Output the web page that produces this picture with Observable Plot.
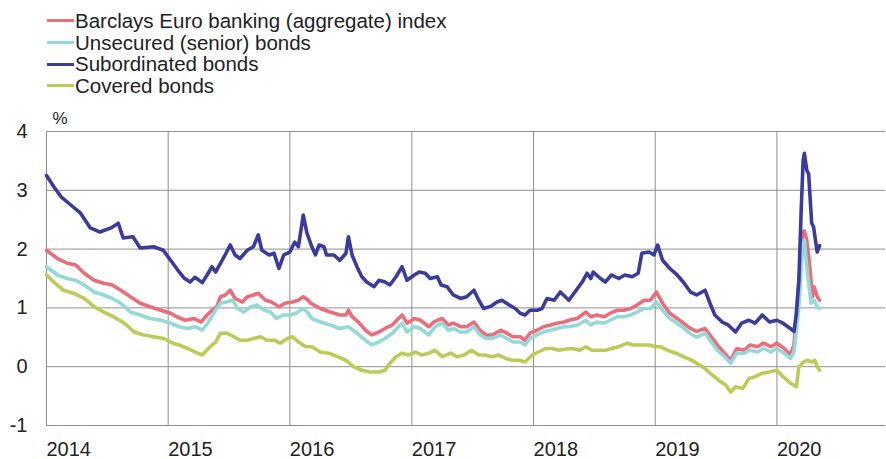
<!DOCTYPE html>
<html>
<head>
<meta charset="utf-8">
<script src="https://cdn.jsdelivr.net/npm/d3@7"></script>
<script src="https://cdn.jsdelivr.net/npm/@observablehq/plot@0.6"></script>
<style>
  html, body { margin: 0; padding: 0; background: #fff; }
  body { width: 886px; height: 459px; position: relative; overflow: hidden; font-family: "Liberation Sans", Arial, sans-serif; color: #222; }
  #legend { position: absolute; left: 0; top: 10px; }
  .row { height: 21.7px; line-height: 21.7px; font-size: 20.5px; display: flex; align-items: center; white-space: nowrap; }
  .sw { display: inline-block; margin-left: 47px; width: 27px; height: 3px; margin-right: 1px; }
  #chart { position: absolute; left: 0; top: 96px; }
</style>
</head>
<body>
<div id="legend"></div>
<div id="chart"></div>
<script>
// Series names and colours
const seriesNames = [
  "Barclays Euro banking (aggregate) index",
  "Unsecured (senior) bonds",
  "Subordinated bonds",
  "Covered bonds"
];
const seriesColors = ["#e96d7a", "#93d9da", "#3b3b9b", "#bccb57"];

// Tick values
const yTicks = [-1, 0, 1, 2, 3, 4];
const yearTicks = [2014, 2015, 2016, 2017, 2018, 2019, 2020];

// Data: [decimal year, yield %]
const aggregateIndex = [
  [2014.00,1.98],[2014.09,1.84],[2014.17,1.76],[2014.24,1.73],[2014.31,1.59],[2014.39,1.47],[2014.47,1.42],
  [2014.54,1.39],[2014.61,1.30],[2014.69,1.19],[2014.77,1.08],[2014.85,1.02],[2014.94,0.96],[2015.02,0.91],
  [2015.07,0.85],[2015.14,0.79],[2015.21,0.82],[2015.27,0.76],[2015.32,0.88],[2015.36,0.96],[2015.40,1.02],
  [2015.43,1.19],[2015.47,1.22],[2015.51,1.30],[2015.55,1.16],[2015.61,1.10],[2015.65,1.19],[2015.70,1.22],
  [2015.74,1.25],[2015.80,1.13],[2015.85,1.10],[2015.91,1.02],[2015.96,1.08],[2016.02,1.10],[2016.07,1.13],
  [2016.11,1.19],[2016.15,1.13],[2016.17,1.08],[2016.25,0.99],[2016.33,0.93],[2016.41,0.88],[2016.46,0.88],
  [2016.48,0.96],[2016.51,0.85],[2016.57,0.74],[2016.62,0.62],[2016.67,0.54],[2016.73,0.59],[2016.78,0.65],
  [2016.84,0.71],[2016.89,0.82],[2016.92,0.88],[2016.96,0.74],[2017.02,0.82],[2017.07,0.79],[2017.14,0.68],
  [2017.18,0.76],[2017.21,0.79],[2017.25,0.82],[2017.30,0.71],[2017.34,0.74],[2017.40,0.68],[2017.45,0.68],
  [2017.51,0.76],[2017.56,0.62],[2017.61,0.54],[2017.66,0.54],[2017.73,0.62],[2017.78,0.57],[2017.83,0.51],
  [2017.89,0.51],[2017.93,0.45],[2017.97,0.57],[2018.03,0.62],[2018.08,0.68],[2018.14,0.71],[2018.19,0.74],
  [2018.25,0.76],[2018.29,0.79],[2018.36,0.82],[2018.43,0.93],[2018.47,0.85],[2018.52,0.88],[2018.58,0.85],
  [2018.63,0.91],[2018.69,0.96],[2018.74,0.96],[2018.80,0.99],[2018.85,1.05],[2018.91,1.13],[2018.96,1.13],
  [2019.01,1.27],[2019.06,1.08],[2019.12,0.91],[2019.20,0.79],[2019.29,0.65],[2019.34,0.60],[2019.41,0.65],
  [2019.46,0.51],[2019.51,0.37],[2019.57,0.23],[2019.62,0.11],[2019.67,0.31],[2019.73,0.28],[2019.78,0.37],
  [2019.84,0.34],[2019.89,0.40],[2019.95,0.34],[2020.00,0.40],[2020.06,0.31],[2020.11,0.20],[2020.14,0.37],
  [2020.18,1.47],[2020.21,2.27],[2020.225,2.31],[2020.245,2.15],[2020.27,1.70],[2020.29,1.19],[2020.305,1.36],
  [2020.33,1.19],[2020.35,1.13]
];
const seniorBonds = [
  [2014.00,1.70],[2014.09,1.56],[2014.17,1.50],[2014.24,1.47],[2014.31,1.39],[2014.39,1.27],[2014.47,1.22],
  [2014.54,1.16],[2014.61,1.08],[2014.69,0.93],[2014.77,0.88],[2014.85,0.82],[2014.94,0.79],[2015.02,0.74],
  [2015.09,0.68],[2015.16,0.65],[2015.22,0.68],[2015.28,0.62],[2015.33,0.76],[2015.39,0.96],[2015.43,1.08],
  [2015.48,1.10],[2015.53,1.13],[2015.57,0.99],[2015.62,0.93],[2015.68,1.02],[2015.73,1.05],[2015.79,0.96],
  [2015.84,0.93],[2015.89,0.82],[2015.95,0.88],[2016.00,0.88],[2016.05,0.91],[2016.11,0.99],[2016.15,0.91],
  [2016.18,0.82],[2016.25,0.76],[2016.33,0.71],[2016.41,0.65],[2016.48,0.68],[2016.55,0.57],[2016.62,0.45],
  [2016.67,0.37],[2016.73,0.42],[2016.78,0.48],[2016.84,0.57],[2016.89,0.68],[2016.92,0.74],[2016.96,0.59],
  [2017.02,0.68],[2017.07,0.65],[2017.14,0.54],[2017.18,0.65],[2017.21,0.71],[2017.25,0.74],[2017.30,0.62],
  [2017.34,0.65],[2017.40,0.59],[2017.45,0.59],[2017.51,0.68],[2017.56,0.54],[2017.61,0.48],[2017.66,0.48],
  [2017.73,0.54],[2017.78,0.48],[2017.83,0.42],[2017.89,0.42],[2017.93,0.37],[2017.97,0.48],[2018.03,0.54],
  [2018.08,0.59],[2018.14,0.62],[2018.19,0.65],[2018.25,0.68],[2018.29,0.68],[2018.36,0.71],[2018.43,0.79],
  [2018.47,0.71],[2018.52,0.76],[2018.58,0.74],[2018.63,0.79],[2018.69,0.85],[2018.74,0.85],[2018.80,0.88],
  [2018.85,0.93],[2018.91,0.99],[2018.96,0.99],[2019.01,1.10],[2019.06,0.96],[2019.12,0.82],[2019.20,0.71],
  [2019.29,0.56],[2019.34,0.50],[2019.41,0.57],[2019.46,0.42],[2019.51,0.28],[2019.57,0.17],[2019.62,0.06],
  [2019.67,0.23],[2019.73,0.23],[2019.78,0.28],[2019.84,0.25],[2019.89,0.31],[2019.95,0.25],[2020.00,0.31],
  [2020.06,0.23],[2020.11,0.14],[2020.14,0.25],[2020.18,1.02],[2020.21,2.04],[2020.225,2.15],[2020.25,1.59],
  [2020.28,1.08],[2020.305,1.13],[2020.33,1.02],[2020.35,0.99]
];
const subordinatedBonds = [
  [2014.00,3.25],[2014.06,3.06],[2014.12,2.89],[2014.20,2.75],[2014.28,2.61],[2014.36,2.36],[2014.44,2.29],
  [2014.53,2.36],[2014.59,2.44],[2014.63,2.19],[2014.71,2.21],[2014.77,2.02],[2014.88,2.04],[2014.96,1.98],
  [2015.02,1.81],[2015.08,1.64],[2015.13,1.51],[2015.18,1.44],[2015.22,1.52],[2015.28,1.43],[2015.32,1.56],
  [2015.36,1.70],[2015.39,1.61],[2015.46,1.87],[2015.51,2.07],[2015.55,1.90],[2015.59,1.84],[2015.65,1.98],
  [2015.70,2.04],[2015.74,2.24],[2015.77,1.98],[2015.83,1.90],[2015.87,1.93],[2015.91,1.67],[2015.95,1.90],
  [2016.00,1.95],[2016.04,2.12],[2016.07,2.04],[2016.11,2.58],[2016.14,2.27],[2016.18,2.04],[2016.21,1.90],
  [2016.24,2.07],[2016.28,2.04],[2016.30,1.90],[2016.36,1.90],[2016.41,1.81],[2016.46,1.93],[2016.48,2.21],
  [2016.51,1.90],[2016.55,1.70],[2016.59,1.53],[2016.63,1.44],[2016.69,1.36],[2016.73,1.47],[2016.78,1.44],
  [2016.82,1.39],[2016.87,1.53],[2016.92,1.70],[2016.96,1.47],[2017.02,1.56],[2017.06,1.61],[2017.11,1.59],
  [2017.15,1.50],[2017.21,1.53],[2017.24,1.39],[2017.29,1.36],[2017.34,1.22],[2017.40,1.16],[2017.45,1.19],
  [2017.51,1.30],[2017.55,1.13],[2017.59,0.99],[2017.65,1.03],[2017.70,1.10],[2017.74,1.13],[2017.80,1.05],
  [2017.85,0.99],[2017.89,0.91],[2017.93,0.88],[2017.97,0.96],[2018.03,0.96],[2018.07,0.99],[2018.11,1.16],
  [2018.17,1.13],[2018.22,1.27],[2018.29,1.13],[2018.34,1.27],[2018.40,1.44],[2018.44,1.59],[2018.47,1.50],
  [2018.49,1.61],[2018.55,1.50],[2018.59,1.44],[2018.64,1.56],[2018.70,1.50],[2018.75,1.56],[2018.81,1.53],
  [2018.86,1.59],[2018.89,1.93],[2018.95,1.95],[2018.99,1.90],[2019.02,2.07],[2019.06,1.81],[2019.12,1.67],
  [2019.18,1.56],[2019.23,1.44],[2019.29,1.27],[2019.34,1.22],[2019.41,1.30],[2019.45,1.08],[2019.49,0.88],
  [2019.55,0.76],[2019.60,0.71],[2019.66,0.59],[2019.71,0.74],[2019.77,0.79],[2019.82,0.74],[2019.88,0.88],
  [2019.94,0.76],[2020.00,0.79],[2020.05,0.74],[2020.11,0.65],[2020.14,0.60],[2020.16,0.91],[2020.18,1.47],
  [2020.20,2.72],[2020.215,3.51],[2020.225,3.63],[2020.245,3.34],[2020.26,3.28],[2020.285,2.44],[2020.30,2.38],
  [2020.33,1.95],[2020.35,2.06]
];
const coveredBonds = [
  [2014.00,1.56],[2014.07,1.42],[2014.14,1.30],[2014.22,1.25],[2014.31,1.16],[2014.39,1.02],[2014.47,0.93],
  [2014.55,0.85],[2014.64,0.74],[2014.72,0.59],[2014.80,0.54],[2014.88,0.51],[2014.96,0.48],[2015.04,0.40],
  [2015.09,0.37],[2015.16,0.31],[2015.22,0.25],[2015.28,0.20],[2015.33,0.31],[2015.39,0.42],[2015.43,0.57],
  [2015.48,0.57],[2015.54,0.51],[2015.59,0.45],[2015.65,0.45],[2015.70,0.48],[2015.76,0.51],[2015.81,0.45],
  [2015.87,0.45],[2015.92,0.40],[2015.98,0.48],[2016.02,0.51],[2016.07,0.42],[2016.13,0.34],[2016.18,0.34],
  [2016.25,0.25],[2016.32,0.23],[2016.39,0.17],[2016.46,0.11],[2016.52,0.00],[2016.59,-0.06],[2016.66,-0.09],
  [2016.73,-0.09],[2016.78,-0.06],[2016.82,0.06],[2016.87,0.17],[2016.92,0.23],[2016.97,0.20],[2017.03,0.25],
  [2017.08,0.20],[2017.14,0.23],[2017.19,0.28],[2017.25,0.17],[2017.32,0.23],[2017.37,0.17],[2017.43,0.20],
  [2017.49,0.28],[2017.55,0.20],[2017.60,0.20],[2017.66,0.17],[2017.71,0.20],[2017.77,0.14],[2017.82,0.11],
  [2017.88,0.11],[2017.93,0.08],[2017.99,0.20],[2018.04,0.25],[2018.10,0.31],[2018.15,0.31],[2018.21,0.28],
  [2018.27,0.30],[2018.32,0.31],[2018.38,0.28],[2018.43,0.34],[2018.48,0.28],[2018.54,0.28],[2018.59,0.28],
  [2018.64,0.31],[2018.70,0.34],[2018.77,0.40],[2018.82,0.37],[2018.89,0.37],[2018.95,0.37],[2019.00,0.34],
  [2019.04,0.34],[2019.10,0.28],[2019.17,0.23],[2019.23,0.17],[2019.29,0.12],[2019.34,0.06],[2019.41,-0.03],
  [2019.45,-0.11],[2019.52,-0.23],[2019.58,-0.31],[2019.62,-0.43],[2019.66,-0.34],[2019.72,-0.37],[2019.77,-0.20],
  [2019.82,-0.17],[2019.88,-0.11],[2019.94,-0.09],[2020.00,-0.06],[2020.05,-0.17],[2020.11,-0.28],[2020.16,-0.34],
  [2020.18,0.00],[2020.22,0.08],[2020.25,0.11],[2020.29,0.08],[2020.31,0.11],[2020.33,0.00],[2020.35,-0.06]
];

// decimal year -> Date
function toDate(y) {
  const yr = Math.floor(y);
  const a = Date.UTC(yr, 0, 1), b = Date.UTC(yr + 1, 0, 1);
  return new Date(a + (y - yr) * (b - a));
}

const seriesData = [aggregateIndex, seniorBonds, subordinatedBonds, coveredBonds];
const rows = [];
seriesData.forEach((arr, i) => {
  arr.forEach(([t, v]) => rows.push({date: toDate(t), value: v, series: seriesNames[i]}));
});

// Legend
const legend = document.getElementById("legend");
seriesNames.forEach((name, i) => {
  const r = document.createElement("div");
  r.className = "row";
  const s = document.createElement("span");
  s.className = "sw";
  s.style.background = seriesColors[i];
  r.appendChild(s);
  r.appendChild(document.createTextNode(name));
  legend.appendChild(r);
});

const xTickDates = yearTicks.map(y => toDate(y));

const chart = Plot.plot({
  width: 886,
  height: 363,
  marginTop: 35,
  marginBottom: 34,
  marginLeft: 46,
  marginRight: 1,
  style: {fontFamily: "'Liberation Sans', Arial, sans-serif", fontSize: "20px", color: "#222", background: "#fff"},
  x: {type: "utc", domain: [toDate(2014), toDate(2020.89)], label: null},
  y: {domain: [-1, 4], label: null},
  color: {domain: seriesNames, range: seriesColors},
  marks: [
    Plot.gridX(xTickDates, {stroke: "#8f8f8f", strokeOpacity: 1, strokeWidth: 1}),
    Plot.gridY(yTicks, {stroke: "#8f8f8f", strokeOpacity: 1, strokeWidth: 1}),
    Plot.axisX(xTickDates, {tickSize: 0, tickPadding: 16, textAnchor: "start", tickFormat: d3.utcFormat("%Y"), label: null, fontSize: 20}),
    Plot.axisY(yTicks, {tickSize: 0, tickPadding: 19, tickFormat: d => String(d), label: null, fontSize: 20}),
    Plot.line(rows, {x: "date", y: "value", z: "series", stroke: "series", strokeWidth: 3.6, strokeLinejoin: "round", strokeLinecap: "round"}),
    Plot.text(["%"], {frameAnchor: "top-left", lineAnchor: "middle", dx: 6, dy: -13, textAnchor: "start", fontSize: 17, fill: "#222"})
  ]
});
document.getElementById("chart").appendChild(chart);
</script>
</body>
</html>
